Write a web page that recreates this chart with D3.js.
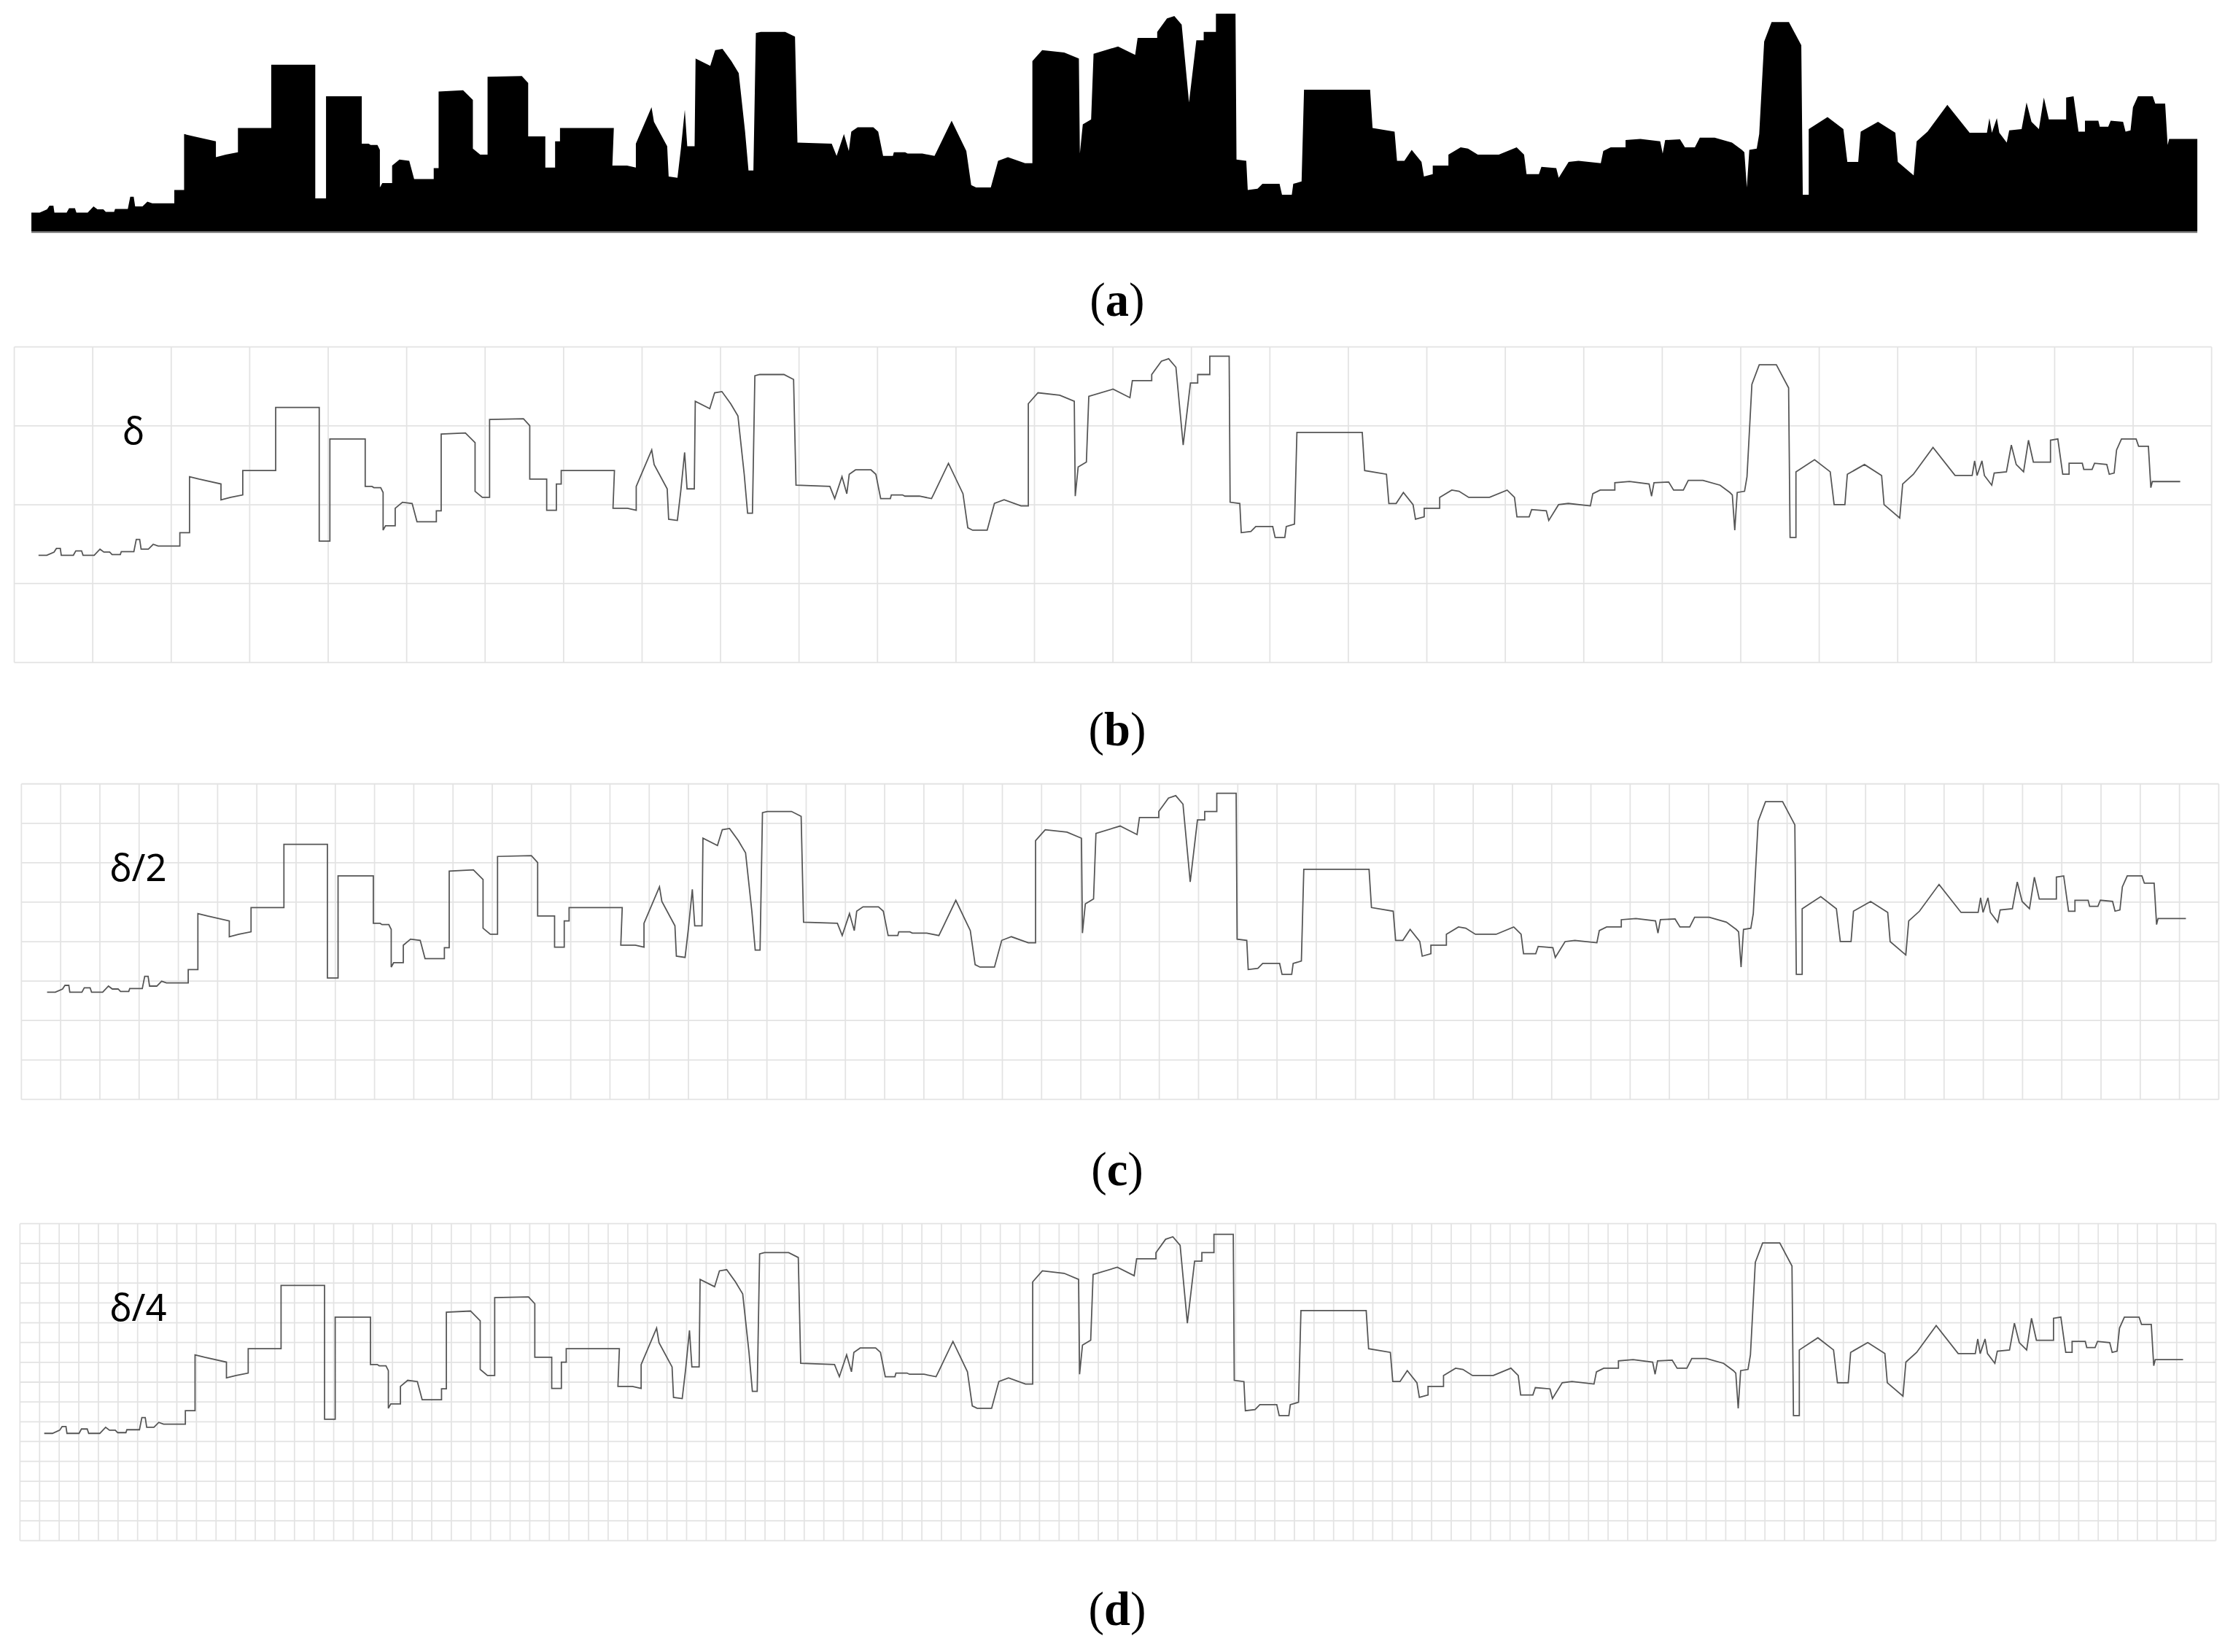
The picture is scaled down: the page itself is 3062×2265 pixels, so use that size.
<!DOCTYPE html>
<html>
<head>
<meta charset="utf-8">
<script src="https://cdn.jsdelivr.net/npm/d3@7"></script>
<style>
  body{ margin:0; background:#fff; }
  .grid line{ stroke:#e3e3e3; stroke-width:0.9; }
  .trace{ fill:none; stroke:#555; stroke-width:0.9; }
  .caption{ font-family:"Liberation Serif",serif; font-size:33px; }
  .delta{ font-family:"Noto Sans",sans-serif; font-size:26px; }
</style>
</head>
<body>
<svg id="fig" width="3062" height="2265" viewBox="0 0 1565 1157" preserveAspectRatio="none"></svg>
<script>
// skyline profile: [x, y] in reference crop pixels
var profile1 = [[63,873],[80,873],[95,860],[100,845],[108,845],[110,873],[135,873],[140,855],[152,855],[155,873],[178,873],[190,848],[198,860],[210,860],[215,870],[232,870],[234,858],[260,858],[265,808],[272,808],[275,848],[290,848],[300,828],[310,835],[355,835],[355,780],[375,780],[375,550],[395,560],[440,580],[440,645],[460,635],[485,625],[485,525],[553,525],[553,265],[643,265],[643,815],[665,815],[665,395],[738,395],[738,590],[752,590],[756,595],[770,595],[775,615],[775,770],[780,752],[800,752],[800,680],[815,655],[835,660],[845,735],[885,735],[885,690],[895,690],[895,375],[945,370],[965,410],[965,610],[980,635],[995,635],[995,315],[1065,312],[1078,340],[1078,560],[1113,560],[1113,688],[1133,688],[1133,580],[1143,580],[1143,525],[1253,525],[1250,680],[1280,680],[1298,688],[1298,590],[1330,440],[1335,500],[1362,600],[1365,725],[1383,730],[1390,610],[1398,450],[1403,600],[1418,600],[1420,240],[1450,270],[1460,205],[1475,200]];
var profile2 = [[0,250],[15,300],[28,540],[35,700],[45,700],[50,135],[60,130],[110,130],[130,150],[135,585],[205,590],[215,640],[230,550],[240,620],[245,540],[258,522],[290,522],[300,540],[310,640],[330,640],[332,625],[355,625],[360,630],[390,630],[415,640],[420,620],[450,495],[480,620],[490,760],[500,770],[530,770],[545,660],[565,645],[600,670],[615,670],[615,250],[635,205],[680,215],[710,240],[712,630],[718,510],[735,490],[740,220],[790,190],[825,225],[830,155],[870,155],[870,130],[890,75],[905,65],[920,100],[935,420],[950,165],[965,165],[965,130],[990,130],[990,55],[1030,55],[1032,655],[1052,660],[1055,780],[1075,775],[1085,755],[1120,755],[1125,800],[1145,800],[1148,755],[1165,745],[1170,368],[1305,368],[1310,525],[1355,540],[1360,660],[1375,660],[1390,615],[1410,665],[1415,725],[1433,715],[1433,680],[1465,680],[1465,635],[1490,605],[1505,610],[1525,635],[1568,635]];
var profile3 = [[110,605],[125,635],[130,715],[155,715],[160,685],[190,690],[195,730],[215,665],[235,660],[280,670],[285,620],[300,605],[330,605],[330,575],[360,570],[400,580],[405,630],[410,575],[440,572],[450,605],[470,605],[480,565],[510,565],[545,585],[565,615],[570,625],[575,770],[580,615],[595,610],[600,550],[610,170],[625,90],[660,90],[685,185],[688,800],[700,800],[700,530],[738,480],[770,530],[778,665],[800,665],[805,540],[840,500],[875,545],[880,665],[912,720],[918,580],[940,540],[980,430],[1025,545],[1060,545],[1065,485],[1070,545],[1080,485],[1085,545],[1100,585],[1105,535],[1130,530],[1140,420],[1150,500],[1165,530],[1175,400],[1185,490],[1220,490],[1220,400],[1235,395],[1245,540],[1258,540],[1258,495],[1285,495],[1288,520],[1305,520],[1310,495],[1335,500],[1340,540],[1350,535],[1355,440],[1365,395],[1395,395],[1400,425],[1420,425],[1425,595],[1428,570],[1485,570]];
var cropOffset = [0, 511, 1022];
var cropScaleX = [2.922, 2.922, 2.889];

var panelLabels = ["δ", "δ/2", "δ/4"];
var captions = ["a", "b", "c", "d"];
var gridCols = [28, 56, 112];
var gridRows = [4, 8, 16];

// convert crop pixels to profile units: x along skyline, h = height above the base
var skyline = [];
[profile1, profile2, profile3].forEach(function(p, i){
    p.forEach(function(d){
        skyline.push({x: d[0] / cropScaleX[i] + cropOffset[i], h: (950 - d[1]) / 5.87});
    });
});
var xExt = d3.extent(skyline, function(d){ return d.x; });

var svg = d3.select("#fig");

// (a) silhouette
var xa = d3.scaleLinear().domain(xExt).range([22, 1540]);
var ya = d3.scaleLinear().domain([0, 152.5]).range([162, 9.5]);
var area = d3.area().x(function(d){ return xa(d.x); }).y0(ya(0)).y1(function(d){ return ya(d.h); });
svg.append("path").datum(skyline).attr("d", area).attr("fill", "#000");
svg.append("line").attr("x1", 22).attr("x2", 1540).attr("y1", 162.6).attr("y2", 162.6)
    .attr("stroke", "#666").attr("stroke-width", 1);

// (b)-(d) traced outline on grids of step delta, delta/2, delta/4
var panels = [
    {box: [10, 243, 1550, 464], xr: [27, 1528], base: 402},
    {box: [15, 549, 1555, 770], xr: [33, 1532], base: 708},
    {box: [14, 857, 1553, 1079], xr: [31, 1530], base: 1017}
];

panels.forEach(function(p, i){
    var g = svg.append("g");
    var gx = d3.scaleLinear().domain([0, gridCols[i]]).range([p.box[0], p.box[2]]);
    var gy = d3.scaleLinear().domain([0, gridRows[i]]).range([p.box[1], p.box[3]]);
    var grid = g.append("g").attr("class", "grid");
    grid.selectAll(".v").data(d3.range(gridCols[i] + 1)).enter().append("line")
        .attr("x1", gx).attr("x2", gx).attr("y1", p.box[1]).attr("y2", p.box[3]);
    grid.selectAll(".h").data(d3.range(gridRows[i] + 1)).enter().append("line")
        .attr("y1", gy).attr("y2", gy).attr("x1", p.box[0]).attr("x2", p.box[2]);

    var x = d3.scaleLinear().domain(xExt).range(p.xr);
    var y = d3.scaleLinear().domain([0, 100]).range([p.base, p.base - 100]);
    var line = d3.line().x(function(d){ return x(d.x); }).y(function(d){ return y(d.h); });
    g.append("path").datum(skyline).attr("class", "trace").attr("d", line);

    g.append("text").attr("class", "delta").attr("x", i == 0 ? 86 : 77).attr("y", p.box[1] + 68)
        .text(panelLabels[i]);
});

var capY = [221, 522, 830, 1138];
captions.forEach(function(c, i){
    var t = svg.append("text").attr("class", "caption").attr("x", 783).attr("y", capY[i])
        .attr("text-anchor", "middle");
    t.append("tspan").text("(");
    t.append("tspan").attr("font-weight", "bold").text(c);
    t.append("tspan").text(")");
});
</script>
</body>
</html>
